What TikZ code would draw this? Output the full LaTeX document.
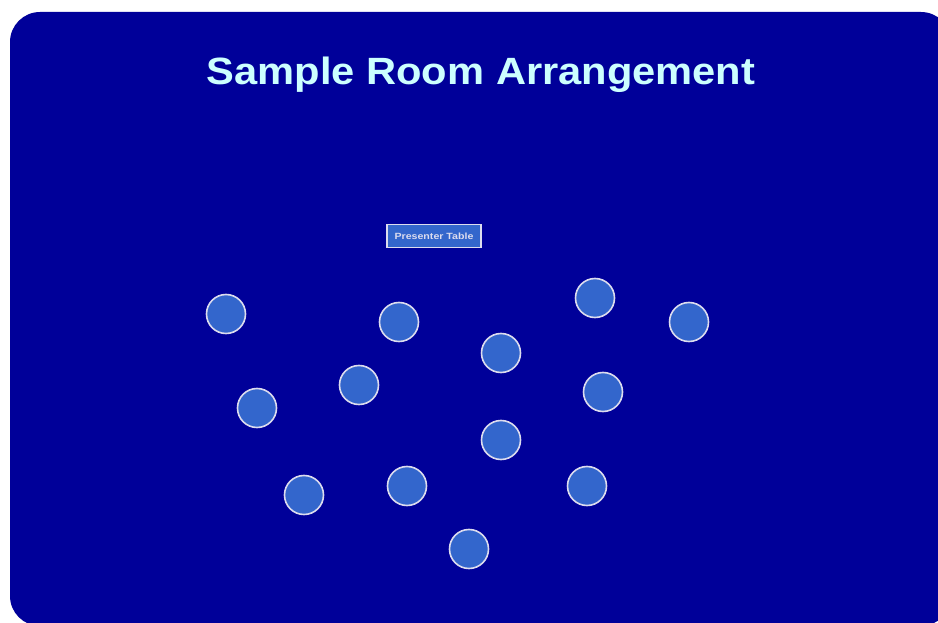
\documentclass[tikz,border=0pt]{standalone}
\usepackage{fontspec}
\setmainfont{Liberation Sans}
\usetikzlibrary{positioning}
\definecolor{roomc}{HTML}{000099}
\definecolor{tablec}{HTML}{3366CC}
\definecolor{rimc}{HTML}{DCDCEE}
\definecolor{titlec}{HTML}{CCFFFF}
\tikzset{
  room/.style={fill=roomc, rounded corners=30pt},
  rtable/.style={circle, fill=tablec, draw=rimc, line width=1.6pt, inner sep=0pt, minimum size=39pt},
  ptable/.style={rectangle, fill=tablec, draw=rimc, line width=1.4pt, inner sep=0pt,
    minimum width=94pt, minimum height=23pt, text=rimc, font=\fontsize{9}{10}\selectfont\bfseries},
  heading/.style={text=titlec, anchor=base, inner sep=0pt, font=\fontsize{38}{42}\selectfont\bfseries},
}
\begin{document}
\begin{tikzpicture}[x=1pt, y=-1pt]
  \useasboundingbox (0,0) rectangle (938,623);
  \clip (0,0) rectangle (938,623);
  \fill[room] (10,12) rectangle (951,626);
  \node[heading] (title) at (481,85) {\scalebox{1.096}[1]{Sample Room Arrangement}};
  \node[ptable] (presenter) at (434,236) {\scalebox{1.18}[1]{Presenter Table}};
  % round tables
  \foreach \n/\xx/\yy in {t1/226/314, t2/399/322, t3/595/298, t4/689/322,
      t5/501/353, t6/359/385, t7/257/408, t8/603/392, t9/501/440,
      t10/304/495, t11/407/486, t12/587/486, t13/469/549}
    \node[rtable] (\n) at (\xx,\yy) {};
\end{tikzpicture}
\end{document}
